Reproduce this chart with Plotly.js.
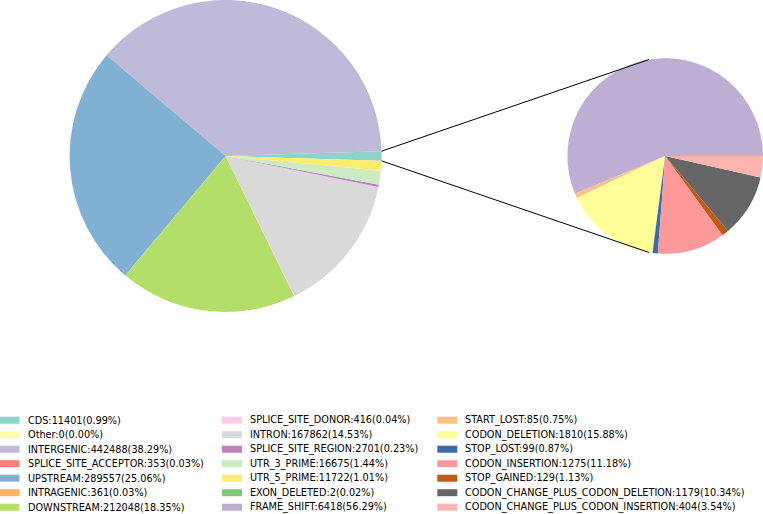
<!DOCTYPE html>
<html>
<head>
<meta charset="utf-8">
<script src="https://cdn.plot.ly/plotly-3.0.1.min.js"></script>
<style>html,body{margin:0;padding:0;background:#fff;}#chart{width:763px;height:514px;}</style>
</head>
<body>
<div id="chart"></div>
<script>
// Main pie data
const mainLabels = ["CDS","Other","INTERGENIC","SPLICE_SITE_ACCEPTOR","UPSTREAM","INTRAGENIC","DOWNSTREAM","SPLICE_SITE_DONOR","INTRON","SPLICE_SITE_REGION","UTR_3_PRIME","UTR_5_PRIME","EXON_DELETED"];
const mainValues = [11401,0,442488,353,289557,361,212048,416,167862,2701,16675,11722,2];
const mainPct = ["0.99","0.00","38.29","0.03","25.06","0.03","18.35","0.04","14.53","0.23","1.44","1.01","0.02"];
const mainColors = ["#8dd3c7","#ffffb3","#bebada","#fb8072","#80b1d3","#fdb462","#b3de69","#fccde5","#d9d9d9","#bc80bd","#ccebc5","#ffed6f","#7fc97f"];

// Detail pie data
const subLabels = ["FRAME_SHIFT","START_LOST","CODON_DELETION","STOP_LOST","CODON_INSERTION","STOP_GAINED","CODON_CHANGE_PLUS_CODON_DELETION","CODON_CHANGE_PLUS_CODON_INSERTION"];
const subValues = [6418,85,1810,99,1275,129,1179,404];
const subPct = ["56.29","0.75","15.88","0.87","11.18","1.13","10.34","3.54"];
const subColors = ["#beaed4","#fdc086","#ffff99","#386cb0","#fb9a99","#bf5b17","#666666","#fbb4ae"];

const W = 763, H = 514;
const px = x => x / W;
const py = y => 1 - y / H;

// geometry (pixels)
const main = {cx: 225.6, cy: 156, r: 156};
const sub = {cx: 665.2, cy: 156, r: 97.8};

const sum = a => a.reduce((p, q) => p + q, 0);
const halfFirst = 180 * mainValues[0] / sum(mainValues);   // first main slice centred on 3 o'clock
const subFirst = 360 * subValues[0] / sum(subValues);      // first detail slice starts at 3 o'clock

// Plotly (counterclockwise): first slice lies clockwise of the rotation point
const traces = [
  {
    type: "pie", labels: mainLabels, values: mainValues, sort: false,
    direction: "counterclockwise", rotation: 90 - halfFirst,
    marker: {colors: mainColors, line: {width: 0}},
    textinfo: "none", hoverinfo: "label+value+percent", showlegend: false,
    domain: {x: [px(main.cx - main.r), px(main.cx + main.r)], y: [py(main.cy + main.r), 1]}
  },
  {
    type: "pie", labels: subLabels, values: subValues, sort: false,
    direction: "counterclockwise", rotation: 90 - subFirst,
    marker: {colors: subColors, line: {width: 0}},
    textinfo: "none", hoverinfo: "label+value+percent", showlegend: false,
    domain: {x: [px(sub.cx - sub.r), 1], y: [py(sub.cy + sub.r), py(sub.cy - sub.r)]}
  }
];

// connection lines from edges of first main slice to detail pie
const rad = d => d * Math.PI / 180;
const subAng = 99.6;
const shapes = [];
[1, -1].forEach(s => {
  const a = rad(s * halfFirst);
  const x0 = main.cx + main.r * Math.cos(a), y0 = main.cy - main.r * Math.sin(a);
  const b = rad(s * subAng);
  const x1 = sub.cx + sub.r * Math.cos(b), y1 = sub.cy - sub.r * Math.sin(b);
  shapes.push({type: "line", xref: "paper", yref: "paper", x0: px(x0), y0: py(y0), x1: px(x1), y1: py(y1),
    line: {color: "#000", width: 1}, layer: "above"});
});

// legend (3 columns x 7 rows)
const legLabels = mainLabels.concat(subLabels);
const legValues = mainValues.concat(subValues);
const legPct = mainPct.concat(subPct);
const legColors = mainColors.concat(subColors);
const colX = [-0.5, 222, 437.3];
const row0 = 420.2, rowStep = 14.5;
const annotations = [];
legLabels.forEach((lab, i) => {
  const c = Math.floor(i / 7), r = i % 7;
  const yc = row0 + r * rowStep;
  shapes.push({type: "rect", xref: "paper", yref: "paper",
    x0: px(colX[c]), x1: px(colX[c] + 20), y0: py(yc + 3.5), y1: py(yc - 3.5),
    fillcolor: legColors[i], line: {width: 0}});
  annotations.push({xref: "paper", yref: "paper", x: px(colX[c] + 27), y: py(yc),
    xanchor: "left", yanchor: "middle", showarrow: false, borderpad: 0,
    text: lab + ":" + legValues[i] + "(" + legPct[i] + "%)",
    font: {family: "DejaVu Sans", size: 9.7, color: "#000"}});
});

const layout = {
  width: W, height: H, margin: {l: 0, r: 0, t: 0, b: 0},
  paper_bgcolor: "#fff", plot_bgcolor: "#fff", showlegend: false,
  shapes: shapes, annotations: annotations,
  font: {family: "DejaVu Sans"}
};
Plotly.newPlot("chart", traces, layout, {displayModeBar: false, staticPlot: true});
</script>
</body>
</html>
